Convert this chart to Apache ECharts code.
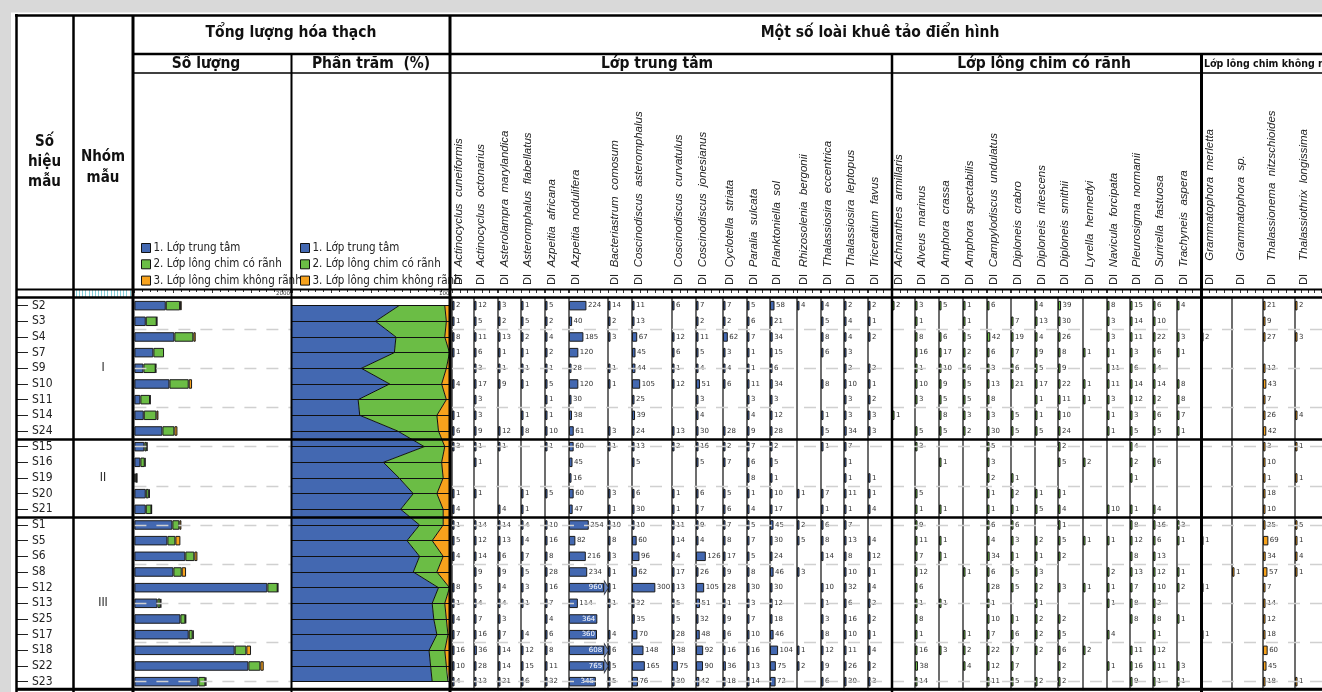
<!DOCTYPE html>
<html>
<head>
<meta charset="utf-8">
<title>Khuê tảo</title>
<script src="https://cdn.jsdelivr.net/npm/echarts@6/dist/echarts.min.js"></script>
<style>
html, body { margin: 0; padding: 0; background: #fff; }
#chart { width: 1322px; height: 692px; }
</style>
</head>
<body>
<div id="chart"></div>
<script>
var _ = null;

// mẫu và nhóm mẫu
var samples = ['S2','S3','S4','S7','S9','S10','S11','S14','S24','S15','S16','S19','S20','S21','S1','S5','S6','S8','S12','S13','S25','S17','S18','S22','S23'];
var sampleGroups = ['I','I','I','I','I','I','I','I','I','II','II','II','II','II','III','III','III','III','III','III','III','III','III','III','III'];

var classNames = ['1. Lớp trung tâm', '2. Lớp lông chim có rãnh', '3. Lớp lông chim không rãnh'];
var classColors = ['#4368b1', '#6bbd45', '#f7a21c'];

// Tổng lượng hóa thạch - số lượng
var countCentric = [403,146,514,244,116,450,77,120,360,128,77,13,146,146,488,424,655,501,1709,296,591,698,1289,1465,822];
var countRaphe   = [184,141,244,137,158,248,124,163,154,30,56,17,39,73,90,103,116,107,133,39,64,51,150,154,90];
var countAraphid = [21,4,30,_,4,43,4,26,39,9,9,4,13,4,26,64,39,56,4,9,9,13,60,43,13];

// Tổng lượng hóa thạch - phần trăm
var pctCentric = [68,53,66,65,44,62,42,43,67,84,58,68,77,69,81,73,81,77,93,89,90,92,87,88,89];
var pctRaphe   = [29,45,31,35,54,33,56,49,26,13,37,28,15,27,15,16,15,15,7,8,8,7,10,10,10];
var pctAraphid = [3,2,3,0,2,5,2,8,7,3,5,4,8,4,4,11,4,8,0,3,2,1,3,2,1];

// Lớp trung tâm
var centricNames = ['Actinocyclus cuneiformis','Actinocyclus octonarius','Asterolampra marylandica','Asteromphalus flabellatus','Azpeitia africana','Azpeitia nodulifera','Bacteriastrum comosum','Coscinodiscus asteromphalus','Coscinodiscus curvatulus','Coscinodiscus jonesianus','Cyclotella striata','Paralia sulcata','Planktoniella sol','Rhizosolenia bergonii','Thalassiosira eccentrica','Thalassiosira leptopus','Triceratium favus'];
var centricCounts = [
  [2,1,8,1,_,4,_,1,6,3,_,_,1,4,1,5,4,_,8,1,4,7,16,10,4],
  [12,5,11,6,3,17,3,3,9,1,1,_,1,_,14,12,14,9,5,4,7,16,36,28,13],
  [3,2,13,1,1,9,_,_,12,1,_,_,_,4,14,13,6,9,4,4,3,7,14,14,21],
  [1,5,2,1,1,1,_,1,8,_,_,_,1,1,4,4,7,5,3,1,_,4,12,15,6],
  [5,2,4,2,1,5,1,1,10,1,_,_,5,_,10,16,8,28,16,7,4,6,8,11,32],
  [224,40,185,120,28,120,30,38,61,60,45,16,60,47,254,82,216,234,960,114,364,360,608,765,345],
  [14,2,3,_,1,1,_,_,3,1,_,_,3,1,10,8,3,1,1,1,_,4,6,5,5],
  [11,13,67,45,44,105,25,39,24,13,5,_,6,30,10,60,96,62,300,32,35,70,148,165,76],
  [6,_,12,6,1,12,_,_,13,2,_,_,1,1,11,14,4,17,13,5,5,28,38,75,30],
  [7,2,11,5,4,51,3,4,30,16,5,_,6,7,9,4,126,26,105,51,32,48,92,90,42],
  [7,2,62,3,4,6,_,_,28,2,7,_,5,6,7,8,17,9,28,1,9,6,16,36,18],
  [5,6,7,1,1,11,3,4,9,7,6,8,1,4,5,7,5,8,30,3,7,10,16,13,14],
  [58,21,34,15,6,34,3,12,28,2,5,1,10,17,45,30,24,46,30,12,18,46,104,75,72],
  [4,_,_,_,_,_,_,_,_,_,_,_,1,_,2,5,_,3,_,_,_,_,1,2,_],
  [4,5,8,6,_,8,_,1,5,1,_,_,7,1,6,8,14,_,10,1,3,8,12,9,6],
  [2,4,4,3,2,10,3,3,34,7,1,1,11,1,7,13,8,10,32,6,16,10,11,26,30],
  [2,1,2,_,2,1,2,3,3,_,_,1,1,4,_,4,12,1,4,2,2,1,4,2,3]
];

// Lớp lông chim có rãnh
var rapheNames = ['Achnanthes armillaris','Alveus marinus','Amphora crassa','Amphora spectabilis','Campylodiscus undulatus','Diploneis crabro','Diploneis nitescens','Diploneis smithii','Lyrella hennedyi','Navicula forcipata','Pleurosigma normanii','Surirella fastuosa','Trachyneis aspera'];
var rapheCounts = [
  [2,_,_,_,_,_,_,1,_,_,_,_,_,_,_,_,_,_,_,_,_,_,_,_,_],
  [3,1,8,16,1,10,3,_,5,3,_,_,5,1,9,11,7,12,6,1,8,1,16,38,14],
  [5,_,6,17,10,9,5,8,5,_,1,_,_,1,_,1,1,_,_,1,_,_,3,_,_],
  [1,1,5,2,6,5,5,3,2,_,_,_,_,_,_,_,_,1,_,_,_,1,2,4,_],
  [6,_,42,6,3,13,8,3,30,5,3,2,1,1,6,4,34,6,28,1,10,7,22,12,11],
  [_,7,19,7,6,21,_,5,5,_,_,1,2,1,6,3,1,5,5,_,1,6,7,7,5],
  [4,13,4,9,5,17,1,1,5,_,_,_,1,5,_,2,1,3,2,1,2,2,2,_,2],
  [39,30,26,8,9,22,11,10,24,2,5,_,1,4,1,5,2,_,3,_,2,5,6,2,2],
  [_,_,_,1,_,1,1,_,_,_,2,_,_,_,_,1,_,_,1,_,_,_,2,_,_],
  [8,3,3,1,11,11,3,1,1,_,_,_,_,10,_,1,_,2,1,1,_,4,_,1,_],
  [15,14,11,3,6,14,12,3,5,4,2,1,_,1,8,12,8,13,7,8,8,_,11,16,9],
  [6,10,22,6,4,14,2,6,5,_,6,_,_,4,16,6,13,12,10,2,8,1,12,11,1],
  [4,_,3,1,_,8,8,7,1,_,_,_,_,_,3,1,_,1,2,_,1,_,_,3,1]
];

// Lớp lông chim không rãnh
var araphidNames = ['Grammatophora merletta','Grammatophora sp.','Thalassionema nitzschioides','Thalassiothrix longissima'];
var araphidCounts = [
  [_,_,2,_,_,_,_,_,_,_,_,_,_,_,_,1,_,_,1,_,_,1,_,_,_],
  [_,_,_,_,_,_,_,_,_,_,_,_,_,_,_,_,_,1,_,_,_,_,_,_,_],
  [21,9,27,_,12,43,7,26,42,3,10,1,18,10,25,69,34,57,7,14,12,18,60,45,18],
  [2,_,3,_,_,_,_,4,_,1,_,1,_,_,5,1,4,1,_,_,_,_,_,_,1]
];

// bố cục cột (px)
var colEdges = [452,474,498,521,545,569,608,632,672,696,723,747,770,797,821,844,868,892,
  915,939,963,987,1011,1035,1058,1083,1107,1130,1153,1177,1201,1232,1263,1295,1327];

var NARROW = "'Liberation Sans Narrow','DejaVu Sans Condensed','Arial Narrow',sans-serif";
var NUMF = "'DejaVu Sans',Verdana,sans-serif";
var SPF = "'Liberation Sans',Arial,sans-serif";

var T = 297.8, RH = 15.668, H = RH * samples.length;
var PX = 0.0778;   // px cho 1 đơn vị số lượng
var AX_Y = 290;

var grids = [], xAxes = [], yAxes = [], series = [], graphics = [];

function addGrid(rect, xa, ya) {
  var gi = grids.length;
  grids.push(rect);
  xa.gridIndex = gi;
  ya.gridIndex = gi;
  xAxes.push(xa);
  yAxes.push(ya);
  return gi;
}
function catAxis(extra) {
  return Object.assign({
    type: 'category', data: samples, inverse: true,
    axisLine: { show: false }, axisTick: { show: false },
    axisLabel: { show: false }, splitLine: { show: false }
  }, extra || {});
}
function hiddenValue() {
  return { type: 'value', show: false };
}
function rulerAxis(max, interval, offset, extra) {
  return Object.assign({
    type: 'value', min: 0, max: max, interval: interval,
    position: 'top', offset: offset,
    axisLine: { show: false },
    axisTick: { show: true, inside: true, length: 3, lineStyle: { color: '#333', width: 1 } },
    axisLabel: { show: false },
    splitLine: { show: false }
  }, extra || {});
}
function endLabel(maxV) {
  return {
    show: true, inside: true, margin: 1, fontSize: 5.5, color: '#333', fontFamily: NUMF,
    alignMaxLabel: 'right',
    formatter: function (v) { return v === maxV ? String(maxV) : ''; }
  };
}

// đường kẻ đứt ngang (mỗi 2,5 hàng), vẽ riêng cho cột số lượng và vùng các loài
var dashMarks = [];
for (var dv = 2.5; dv <= 25; dv += 2.5) dashMarks.push({ yAxis: dv });
[[134.4, 156.6], [452, 875]].forEach(function (span) {
  var dg = addGrid({ left: span[0], top: T - RH / 2, width: span[1], height: H },
    { type: 'value', min: 0, max: 1, axisLine: { show: false }, axisTick: { show: false }, axisLabel: { show: false }, splitLine: { show: false } },
    {
      type: 'value', inverse: true, min: 0, max: 25, interval: 2.5,
      axisLine: { show: false }, axisTick: { show: false }, axisLabel: { show: false },
      splitLine: { show: false }
    });
  series.push({
    type: 'scatter', xAxisIndex: dg, yAxisIndex: dg, symbolSize: 0, silent: true, z: 1,
    data: [[0, 0]],
    markLine: {
      silent: true, symbol: 'none', label: { show: false },
      lineStyle: { color: '#d0d0d0', width: 1.4, type: [12, 10] },
      emphasis: { disabled: true },
      data: dashMarks
    }
  });
});

// cột số hiệu mẫu
addGrid({ left: 17, top: T, width: 56, height: H }, hiddenValue(), catAxis({
  axisTick: { show: true, inside: true, length: 11, alignWithLabel: true, interval: 0, lineStyle: { color: '#222' } },
  axisLabel: { show: true, inside: true, margin: 15, interval: 0, fontSize: 12, color: '#222', fontFamily: NARROW }
}));

// cột nhóm mẫu
var centerLabel = {};
(function () {
  var byGroup = {};
  sampleGroups.forEach(function (g, i) { (byGroup[g] = byGroup[g] || []).push(i); });
  Object.keys(byGroup).forEach(function (g) {
    var idx = byGroup[g];
    centerLabel[idx[Math.floor(idx.length / 2)]] = g;
  });
})();
addGrid({ left: 73, top: T, width: 60, height: H },
  rulerAxis(19, 1, T - AX_Y, { axisTick: { show: true, inside: true, length: 7, lineStyle: { color: '#86d0da', width: 1 } } }),
  catAxis({
    axisLabel: {
      show: true, inside: true, margin: 30, align: 'center', interval: 0,
      fontSize: 12, color: '#222', fontFamily: NARROW,
      formatter: function (v, i) { return centerLabel[i] || ''; }
    }
  }));

// số lượng
var cg = addGrid({ left: 134.4, top: T, width: 2000 * PX, height: H },
  rulerAxis(2000, 500, T - AX_Y, {
    minorTick: { show: true, splitNumber: 5, length: 2, lineStyle: { color: '#333' } },
    axisLabel: endLabel(2000)
  }), catAxis());
[countCentric, countRaphe, countAraphid].forEach(function (d, i) {
  series.push({
    type: 'bar', name: classNames[i], stack: 'cnt', xAxisIndex: cg, yAxisIndex: cg,
    barWidth: 9.5, silent: true,
    itemStyle: { color: classColors[i], borderColor: '#1a1a1a', borderWidth: 1 },
    data: d.map(function (v) { return v == null ? '-' : v; })
  });
});

// phần trăm
var pg = addGrid({ left: 292, top: T + RH / 2, width: 157.5, height: RH * (samples.length - 1) },
  rulerAxis(100, 25, T + RH / 2 - AX_Y, {
    minorTick: { show: true, splitNumber: 5, length: 2, lineStyle: { color: '#333' } },
    axisLabel: endLabel(100)
  }),
  catAxis({ boundaryGap: false, z: 10, splitLine: { show: true, interval: 0, lineStyle: { color: '#111', width: 1.2 } } }));
[pctCentric, pctRaphe, pctAraphid].forEach(function (d, i) {
  series.push({
    type: 'line', name: classNames[i], stack: 'pct', xAxisIndex: pg, yAxisIndex: pg,
    symbol: 'none', silent: true,
    itemStyle: { color: classColors[i] },
    lineStyle: { color: '#111', width: 1 },
    areaStyle: { color: classColors[i], opacity: 1 },
    data: d
  });
});

// các loài
var speciesSets = [
  { names: centricNames, counts: centricCounts },
  { names: rapheNames, counts: rapheCounts },
  { names: araphidNames, counts: araphidCounts }
];
var k = 0;
speciesSets.forEach(function (set, si) {
  set.names.forEach(function (name, j) {
    var left = colEdges[k], w = colEdges[k + 1] - left;
    var maxV = w / PX;
    var clipV = maxV - 50;
    var gi = addGrid({ left: left, top: T, width: w, height: H },
      rulerAxis(maxV, 100, T - AX_Y),
      catAxis({ axisLine: { show: true, lineStyle: { color: '#3c3c3c', width: 1.5 } } }));
    var vals = set.counts[j];
    series.push({
      type: 'bar', xAxisIndex: gi, yAxisIndex: gi, barWidth: 9.5, barMinHeight: 2.5, silent: true,
      itemStyle: { color: classColors[si], borderColor: '#1a1a1a', borderWidth: 1 },
      label: { show: true, position: 'right', distance: 1.5, fontSize: 7, fontFamily: NUMF, color: '#333' },
      data: vals.map(function (v) {
        if (v == null) return '-';
        if (v > maxV) return { value: clipV, label: { position: 'insideRight', distance: 2, color: '#fff', formatter: String(v) } };
        if (v * PX > 25) return { value: v, label: { position: 'insideRight', distance: 2, color: '#fff' } };
        return v;
      })
    });
    var over = [];
    vals.forEach(function (v, i) { if (v != null && v > maxV) over.push([clipV, samples[i]]); });
    if (over.length) {
      series.push({
        type: 'scatter', xAxisIndex: gi, yAxisIndex: gi, silent: true, z: 3,
        symbol: 'path://M0,0L10,7L0,14Z', symbolSize: [4.5, 14], symbolOffset: [2.25, 0],
        itemStyle: { color: classColors[si], borderColor: '#1a1a1a', borderWidth: 0.8 },
        data: over
      });
    }
    var wide = si === 2;
    graphics.push({
      type: 'text', x: left + (wide ? 8.5 : 6.5), y: 285, rotation: Math.PI / 2, z: 100,
      style: {
        text: '{d|DI}' + (wide ? '    ' : '  ') + '{i|' + name.replace(' ', '  ') + '}',
        align: 'left', verticalAlign: 'middle',
        rich: {
          d: { fontSize: 11, fontFamily: SPF, fill: '#222' },
          i: { fontSize: 11.5, fontStyle: 'italic', fontFamily: SPF, fill: '#222' }
        }
      }
    });
    k++;
  });
});

// đường phân nhóm
var sepIdx = [];
sampleGroups.forEach(function (g, i) { if (i > 0 && g !== sampleGroups[i - 1]) sepIdx.push(i); });
addGrid({ left: 16, top: T, width: 1306, height: H }, hiddenValue(), catAxis({
  z: 10,
  splitLine: { show: true, interval: function (i) { return sepIdx.indexOf(i) >= 0; }, lineStyle: { color: '#000', width: 2.5 } }
}));

// khung bảng
var tableLines = [
  [16.5, 14, 16.5, 692, 2.5], [73.5, 15, 73.5, 692, 2.5], [133, 15, 133, 692, 3],
  [291.5, 54, 291.5, 692, 2], [450, 15, 450, 692, 3], [892, 54, 892, 692, 2.5],
  [1201.5, 54, 1201.5, 692, 3],
  [15, 15.5, 1322, 15.5, 2.5], [133, 54, 1322, 54, 2.5], [133, 73, 1322, 73, 1.5],
  [16, 289.5, 1322, 289.5, 2], [16, 297.5, 1322, 297.5, 2.5], [16, 689, 1322, 689, 2.5]
];
graphics.push({ type: 'rect', z: 100, shape: { x: 0, y: 0, width: 1322, height: 12.5 }, style: { fill: '#d9d9d9' } });
graphics.push({ type: 'rect', z: 100, shape: { x: 0, y: 0, width: 11, height: 692 }, style: { fill: '#d9d9d9' } });
tableLines.forEach(function (l) {
  graphics.push({ type: 'line', z: 101, shape: { x1: l[0], y1: l[1], x2: l[2], y2: l[3] }, style: { stroke: '#000', lineWidth: l[4] } });
});

function headText(x, y, text, size, extra) {
  graphics.push({
    type: 'text', x: x, y: y, z: 102,
    style: Object.assign({
      text: text, fontSize: size, fontWeight: 'bold', fontFamily: NARROW, fill: '#111',
      align: 'center', verticalAlign: 'middle'
    }, extra || {})
  });
}
headText(44.5, 162, 'Số\nhiệu\nmẫu', 15, { lineHeight: 20 });
headText(103, 167.5, 'Nhóm\nmẫu', 15, { lineHeight: 21 });
headText(291, 33, 'Tổng lượng hóa thạch', 15.5);
headText(206, 64, 'Số lượng', 15.5);
headText(371, 64, 'Phần trăm  (%)', 15.5);
headText(880, 33, 'Một số loài khuê tảo điển hình', 15.5);
headText(657, 64, 'Lớp trung tâm', 15.5);
headText(1044, 64, 'Lớp lông chim có rãnh', 15.5);
headText(1204, 64, 'Lớp lông chim không rãnh', 10.5, { align: 'left' });

function legendAt(left) {
  return {
    left: left, top: 237, orient: 'vertical', data: classNames, icon: 'rect',
    itemWidth: 9, itemHeight: 9, itemGap: 4.3, selectedMode: false,
    itemStyle: { borderColor: '#111', borderWidth: 1 },
    textStyle: { fontSize: 11.5, lineHeight: 12, fontFamily: NARROW, color: '#222', padding: [0, 0, 0, -2] }
  };
}

var chart = echarts.init(document.getElementById('chart'));
chart.setOption({
  animation: false,
  backgroundColor: '#fff',
  legend: [legendAt(136), legendAt(295)],
  grid: grids,
  xAxis: xAxes,
  yAxis: yAxes,
  series: series,
  graphic: { elements: graphics }
});
</script>
</body>
</html>
